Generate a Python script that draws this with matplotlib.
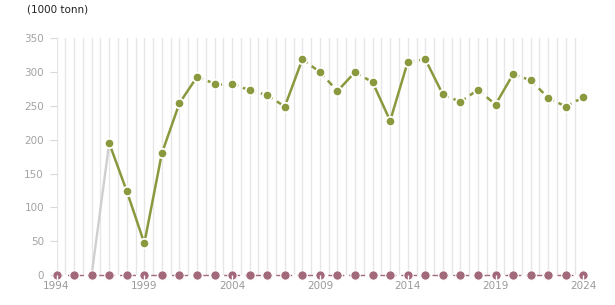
import matplotlib
matplotlib.use("Agg")
import matplotlib.pyplot as plt
import numpy as np

# green series, 1997-2024
green_years = list(range(1997, 2025))
green_vals = [195, 124, 47, 180, 254, 293, 283, 283, 273, 266, 249, 319, 300, 272,
              300, 285, 228, 315, 319, 267, 256, 274, 252, 297, 288, 262, 249, 263]
# True = dashed segment to the next point
green_dashed = [False, False, False, False, False, True, True, True, True, True,
                False, True, True, False, True, False, False, True, False, True,
                True, True, False, True, True, True, True]

# grey series
grey_years = [1996, 1997]
grey_vals = [0, 195]

# pink series (all zero)
pink_years = list(range(1994, 2025))
pink_vals = [0] * len(pink_years)

label_years = [1994, 1999, 2004, 2009, 2014, 2019, 2024]
y_ticks = [0, 50, 100, 150, 200, 250, 300, 350]

GREEN = "#8a993e"
PINK = "#a2697b"
GREY = "#cfcfcf"


def main():
    fig = plt.figure(figsize=(6.15, 3.05), dpi=100)
    ax = fig.add_axes([0.0919, 0.0984, 0.8566, 0.776])

    ax.set_xlim(1994, 2024)
    ax.set_ylim(0, 350)

    # half-year vertical grid
    for x in np.arange(1994, 2024.01, 0.5):
        ax.axvline(x, color="#e6e6e6", lw=1.0, zorder=0)

    ax.plot(grey_years, grey_vals, color=GREY, lw=1.7, zorder=2, solid_capstyle="butt")

    for i in range(len(green_years) - 1):
        ls = (0, (2.6, 2.0)) if green_dashed[i] else "-"
        ax.plot(green_years[i:i + 2], green_vals[i:i + 2], color=GREEN, lw=1.8,
                ls=ls, zorder=3, solid_capstyle="butt", dash_capstyle="butt")
    ax.plot(green_years, green_vals, ls="none", marker="o", ms=6.8, mfc=GREEN,
            mec="white", mew=1.3, zorder=4, clip_on=False)

    ax.plot(pink_years, pink_vals, color=PINK, lw=1.0, ls=(0, (4, 3.5)), zorder=3,
            clip_on=False)
    ax.plot(pink_years, pink_vals, ls="none", marker="o", ms=6.8, mfc=PINK,
            mec="white", mew=0.8, zorder=4, clip_on=False)
    # white tick marks over the labelled years
    ax.vlines(label_years, -8, 0, color="white", lw=1.0, zorder=5, clip_on=False)

    ax.set_xticks(label_years)
    ax.set_xticklabels([str(y) for y in label_years])
    ax.set_yticks(y_ticks)
    ax.tick_params(axis="x", length=0, pad=4, labelsize=7.5, labelcolor="#9a9a9a")
    ax.tick_params(axis="y", length=5, width=0.8, color="#d8d8d8", pad=4,
                   labelsize=7.5, labelcolor="#a3a3a3")
    for s in ax.spines.values():
        s.set_visible(False)

    fig.text(27 / 615, 1 - 9 / 305, "(1000 tonn)", fontsize=7.5, color="#222222",
             va="center", ha="left")

    fig.savefig("out.png", dpi=100)


if __name__ == "__main__":
    main()
